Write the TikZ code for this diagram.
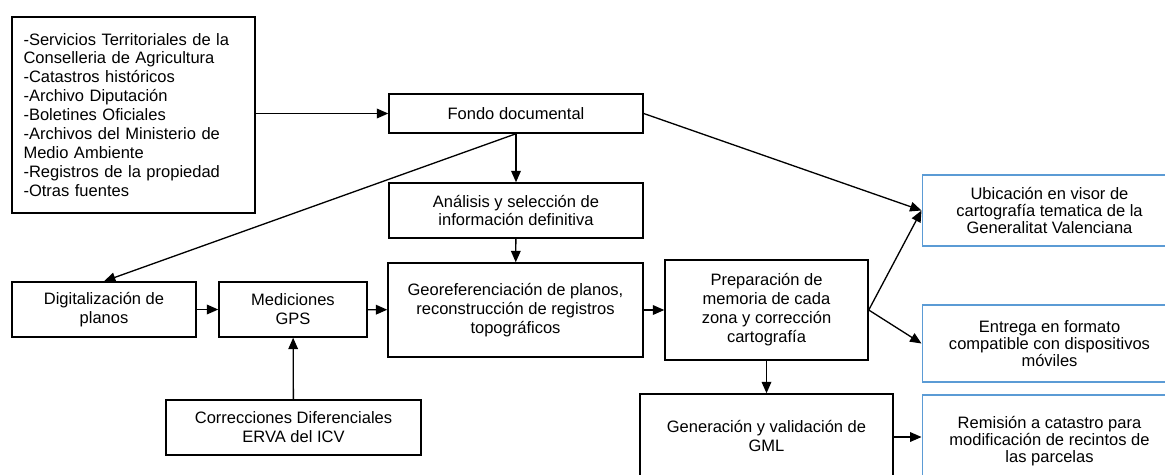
\documentclass[tikz,border=0pt]{standalone}
\usepackage{fontspec}
\setmainfont{Liberation Sans}
\usetikzlibrary{arrows.meta}
\definecolor{boxblue}{RGB}{91,155,213}
\tikzset{
  box/.style={draw, line width=0.85pt, align=center, inner sep=0pt,
    font=\fontsize{9.4}{10.8}\selectfont},
  bluebox/.style={box, draw=boxblue, line width=0.6pt,
    font=\fontsize{9.4}{9.6}\selectfont},
  flecha/.style={-{Triangle[length=6.5pt,width=5.5pt]}, line width=0.75pt},
}
\begin{document}
\begin{tikzpicture}[x=0.02cm, y=-0.02cm]
      \clip (0,0) rectangle (1165,474);

      % fuentes y fondo
      \node[box, minimum width=4.86cm, minimum height=3.92cm, text width=4.40cm, align=left]
        (fuentes) at (133.5,115) {-Servicios Territoriales de la\\
        Conselleria de Agricultura\\
        -Catastros históricos\\
        -Archivo Diputación\\
        -Boletines Oficiales\\
        -Archivos del Ministerio de\\
        Medio Ambiente\\
        -Registros de la propiedad\\
        -Otras fuentes};
      \node[box, minimum width=5.08cm, minimum height=0.78cm] (fondo) at (516,113.5) {Fondo documental};
      \node[box, minimum width=5.08cm, minimum height=1.10cm] (analisis) at (516,210.5)
        {Análisis y selección de\\información definitiva};

      % fila central
      \node[box, minimum width=3.68cm, minimum height=1.10cm] (digital) at (104,309.5)
        {Digitalización de\\planos};
      \node[box, minimum width=2.96cm, minimum height=1.10cm] (gps) at (293,309.5)
        {Mediciones\\GPS};
      \node[box, minimum width=5.10cm, minimum height=1.10cm] (correc) at (293.5,427.5)
        {Correcciones Diferenciales\\ERVA del ICV};
      \node[box, minimum width=5.10cm, minimum height=1.88cm] (georef) at (515.5,310)
        {Georeferenciación de planos,\\reconstrucción de registros\\topográficos};
      \node[box, minimum width=4.06cm, minimum height=2.00cm] (prep) at (766.5,310)
        {Preparación de\\memoria de cada\\zona y corrección\\cartografía};
      \node[box, minimum width=5.06cm, minimum height=1.68cm] (gml) at (766.5,436)
        {Generación y validación de\\GML};

      % salidas
      \node[bluebox, minimum width=5.10cm, minimum height=1.42cm] (visor) at (1049.5,210.5)
        {Ubicación en visor de\\cartografía tematica de la\\Generalitat Valenciana};
      \node[bluebox, minimum width=5.10cm, minimum height=1.54cm] (movil) at (1049.5,343.5)
        {Entrega en formato\\compatible con dispositivos\\móviles};
      \node[bluebox, minimum width=5.10cm, minimum height=1.84cm] (catastro) at (1049.5,441)
        {Remisión a catastro para\\modificación de recintos de\\las parcelas};

      % flechas
      \draw[flecha] (fuentes.east |- fondo.west) -- (fondo.west);
      \draw[flecha] (fondo) -- (analisis);
      \draw[flecha] (fondo.south) -- (digital.north);
      \draw[flecha] (fondo.east) -- (visor.west);
      \draw[flecha] (analisis) -- (georef);
      \draw[flecha] (digital) -- (gps);
      \draw[flecha] (gps) -- (georef);
      \draw[flecha] (correc) -- (gps);
      \draw[flecha] (georef) -- (prep);
      \draw[flecha] (prep) -- (gml);
      \draw[flecha] (prep.east) -- (visor.west);
      \draw[flecha] (prep.east) -- (movil.west);
      \draw[flecha] (gml.east |- 0,437) -- (catastro.west |- 0,437);
\end{tikzpicture}
\end{document}
